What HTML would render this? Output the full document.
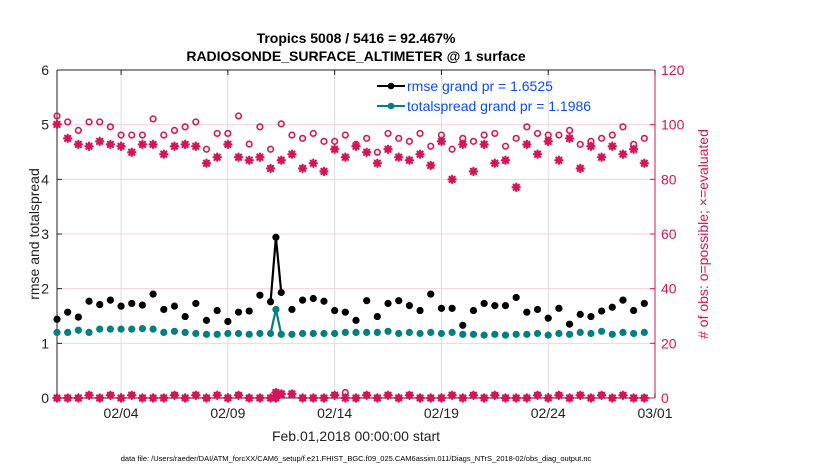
<!DOCTYPE html>
<html><head><meta charset="utf-8">
<style>
html,body{margin:0;padding:0;background:#fff;}
svg{display:block;font-family:"Liberation Sans",Arial,sans-serif;}
</style></head>
<body>
<svg id="chart" width="830" height="470" viewBox="0 0 830 470" xmlns="http://www.w3.org/2000/svg">
<text x="356" y="43" text-anchor="middle" font-size="14" font-weight="bold" fill="#000">Tropics 5008 / 5416 = 92.467%</text>
<text x="356" y="61" text-anchor="middle" font-size="14" font-weight="bold" fill="#000">RADIOSONDE_SURFACE_ALTIMETER @ 1 surface</text>
<g id="grid"></g>
<g id="axes"></g>
<g id="marks"></g>
<text transform="translate(39,234) rotate(-90)" text-anchor="middle" font-size="14" fill="#222">rmse and totalspread</text>
<text transform="translate(708,234) rotate(-90)" text-anchor="middle" font-size="14" fill="#d4145a"># of obs: o=possible; ×=evaluated</text>
<text x="356" y="441" text-anchor="middle" font-size="14" fill="#222">Feb.01,2018 00:00:00 start</text>
<text x="356" y="461" text-anchor="middle" font-size="7.5" fill="#000">data file: /Users/raeder/DAI/ATM_forcXX/CAM6_setup/f.e21.FHIST_BGC.f09_025.CAM6assim.011/Diags_NTrS_2018-02/obs_diag_output.nc</text>
<g>
<line x1="377" y1="86" x2="405" y2="86" stroke="#000" stroke-width="2"/>
<circle cx="391" cy="86" r="3.3" fill="#000"/>
<text x="407" y="91" font-size="14" fill="#0b49ff">rmse grand pr = 1.6525</text>
<line x1="377" y1="106" x2="405" y2="106" stroke="#008080" stroke-width="2"/>
<circle cx="391" cy="106" r="3.3" fill="#008080"/>
<text x="407" y="111" font-size="14" fill="#0b49ff">totalspread grand pr = 1.1986</text>
</g>
</svg>
<script>
// ---- data ----
var times = [0,0.5,1,1.5,2,2.5,3,3.5,4,4.5,5,5.5,6,6.5,7,7.5,8,8.5,9,9.5,10,10.25,10.5,11,11.5,12,12.5,13,13.5,14,14.5,15,15.5,16,16.5,17,17.5,18,18.5,19,19.5,20,20.5,21,21.5,22,22.5,23,23.5,24,24.5,25,25.5,26,26.5,27,27.5];
var rmse = [1.44,1.57,1.48,1.77,1.71,1.79,1.68,1.73,1.70,1.90,1.62,1.68,1.49,1.73,1.42,1.60,1.40,1.57,1.59,1.88,1.76,2.94,1.93,1.62,1.79,1.82,1.77,1.60,1.57,1.42,1.78,1.49,1.73,1.78,1.69,1.60,1.90,1.64,1.64,1.33,1.60,1.73,1.69,1.69,1.84,1.57,1.62,1.46,1.64,1.35,1.53,1.49,1.59,1.66,1.79,1.60,1.73];
var spread = [1.20,1.20,1.24,1.20,1.26,1.26,1.26,1.26,1.27,1.26,1.20,1.22,1.20,1.18,1.165,1.165,1.18,1.18,1.165,1.18,1.18,1.62,1.165,1.165,1.18,1.18,1.18,1.18,1.20,1.20,1.20,1.20,1.22,1.18,1.20,1.18,1.20,1.18,1.20,1.165,1.165,1.15,1.165,1.15,1.165,1.165,1.18,1.15,1.18,1.165,1.20,1.18,1.22,1.165,1.20,1.18,1.20];
var possible = [103.2,101.0,97.9,101.0,101.0,99.2,96.2,96.2,96.2,102.1,96.2,97.9,99.2,101.0,91.0,96.8,96.8,103.2,92.9,99.2,91.0,2,100.3,96.2,95.0,96.8,93.9,93.9,96.2,92.8,95.0,89.9,96.8,95.0,93.9,96.8,92.1,96.2,91.0,95.0,93.9,96.2,96.8,92.1,95.0,99.2,96.8,96.2,96.2,97.9,92.8,93.9,95.0,96.2,99.2,92.8,95.0];
var evaluated = [100.1,95.0,92.8,92.1,93.9,92.8,92.1,89.9,92.8,92.8,89.2,92.1,92.8,92.1,85.9,88.1,92.8,88.1,87.0,88.1,84.0,2,87.0,89.2,84.0,85.9,82.9,91.0,88.1,92.1,89.9,85.9,91.0,88.1,87.0,89.2,85.1,93.9,80.0,92.8,82.9,92.8,85.9,87.0,77.1,92.8,89.2,93.9,87.0,95.0,84.0,92.1,88.1,92.1,89.2,91.0,85.9];
var lowPossible = [0,0,0,1,0,1,0,1,0,0,0,1,0,1,0,1,0,1,0,0,0,0,1.5,1.5,0,0,0,1,2,0,1,0,1,0,1,0,0,0,1,0,1,0,1,0,0,0,1,0,1,0,1,0,1,0,1,0,0];
var lowEvaluated = [0,0,0,1,0,1,0,1,0,0,0,1,0,1,0,1,0,1,0,0,0,0,1.5,1.5,0,0,0,1,0,0,1,0,1,0,1,0,0,0,1,0,1,0,1,0,0,0,1,0,1,0,1,0,1,0,1,0,0];
var xTickDays = [3,8,13,18,23,28];
var xTickLabels = ["02/04","02/09","02/14","02/19","02/24","03/01"];
var yLeftTicks = [0,1,2,3,4,5,6];
var yRightTicks = [0,20,40,60,80,100,120];

// ---- scales ----
var X0=57,X1=655,Y0=398,Y1=70;
function xs(t){return X0+(t/28)*(X1-X0);}
function yl(v){return Y0-(v/6)*(Y0-Y1);}
function yr(c){return Y0-(c/120)*(Y0-Y1);}
var NS="http://www.w3.org/2000/svg";
function mk(tag,attrs,parent){var e=document.createElementNS(NS,tag);for(var k in attrs)e.setAttribute(k,attrs[k]);parent.appendChild(e);return e;}
var grid=document.getElementById('grid'),axes=document.getElementById('axes'),marks=document.getElementById('marks');
var CR="#d4145a";

// grid
xTickDays.forEach(function(d){
  var l=mk('line',{x1:xs(d),x2:xs(d),y1:Y1,y2:Y0,stroke:"#dcdcdc","stroke-width":1},grid);
  
  
});
yRightTicks.forEach(function(c){
  if(c===0||c===120)return;
  var l=mk('line',{x1:X0,x2:X1,y1:yr(c),y2:yr(c),stroke:"#f6d3de","stroke-width":1},grid);
  
  
});

// axes
mk('line',{x1:X0,x2:X0,y1:Y1,y2:Y0,stroke:"#222","stroke-width":1},axes);
mk('line',{x1:X0,x2:X1,y1:Y1,y2:Y1,stroke:"#222","stroke-width":1},axes);
mk('line',{x1:X0,x2:X1,y1:Y0,y2:Y0,stroke:"#222","stroke-width":1},axes);
mk('line',{x1:X1,x2:X1,y1:Y1,y2:Y0,stroke:CR,"stroke-width":1},axes);
yLeftTicks.forEach(function(v){
  mk('line',{x1:X0,x2:X0+5,y1:yl(v),y2:yl(v),stroke:"#222"},axes);
  var t=mk('text',{x:X0-8,y:yl(v)+5,"text-anchor":"end","font-size":"14",fill:"#222"},axes);
  t.textContent=v;
  
  
});
yRightTicks.forEach(function(c){
  mk('line',{x1:X1-5,x2:X1,y1:yr(c),y2:yr(c),stroke:CR},axes);
  var t=mk('text',{x:X1+6,y:yr(c)+5,"font-size":"14",fill:CR},axes);
  t.textContent=c;
  
  
});
xTickDays.forEach(function(d,i){
  mk('line',{x1:xs(d),x2:xs(d),y1:Y0,y2:Y0-5,stroke:"#222"},axes);
  mk('line',{x1:xs(d),x2:xs(d),y1:Y1,y2:Y1+5,stroke:"#222"},axes);
  var t=mk('text',{x:xs(d),y:418,"text-anchor":"middle","font-size":"14",fill:"#222"},axes);
  t.textContent=xTickLabels[i];
  
  
});

// count markers
function circ(x,y){var c=mk('circle',{cx:x,cy:y,r:2.8,fill:"none",stroke:CR,"stroke-width":1.6},marks);return c;}
function star(x,y){
  var g=mk('g',{stroke:CR,"stroke-width":2.2,"stroke-linecap":"round"},marks);
  var s=3.6,d=2.6;
  mk('line',{x1:x-s,x2:x+s,y1:y,y2:y},g);
  mk('line',{x1:x,x2:x,y1:y-s,y2:y+s},g);
  mk('line',{x1:x-d,x2:x+d,y1:y-d,y2:y+d},g);
  mk('line',{x1:x-d,x2:x+d,y1:y+d,y2:y-d},g);
  return g;
}
times.forEach(function(t,i){
  var c=circ(xs(t),yr(possible[i]));
  
  
  var s=star(xs(t),yr(evaluated[i]));
  
  
  var c2=circ(xs(t),yr(lowPossible[i]));
  
  
  var s2=star(xs(t),yr(lowEvaluated[i]));
  
  
});

// lines: only connect consecutive points within 0.5 day gaps around the spike
function seriesLine(vals,color,name){
  var segs=[];
  for(var i=1;i<times.length;i++){
    if(i===21||i===22){
      var l=mk('line',{x1:xs(times[i-1]),y1:yl(vals[i-1]),x2:xs(times[i]),y2:yl(vals[i]),stroke:color,"stroke-width":2.2},marks);
      
      
    }
  }
  times.forEach(function(t,i){
    var p=mk('circle',{cx:xs(t),cy:yl(vals[i]),r:3.6,fill:color},marks);
    
    
  });
}
seriesLine(spread,"#008080","totalspread");
seriesLine(rmse,"#000","rmse");
</script>
</body></html>
